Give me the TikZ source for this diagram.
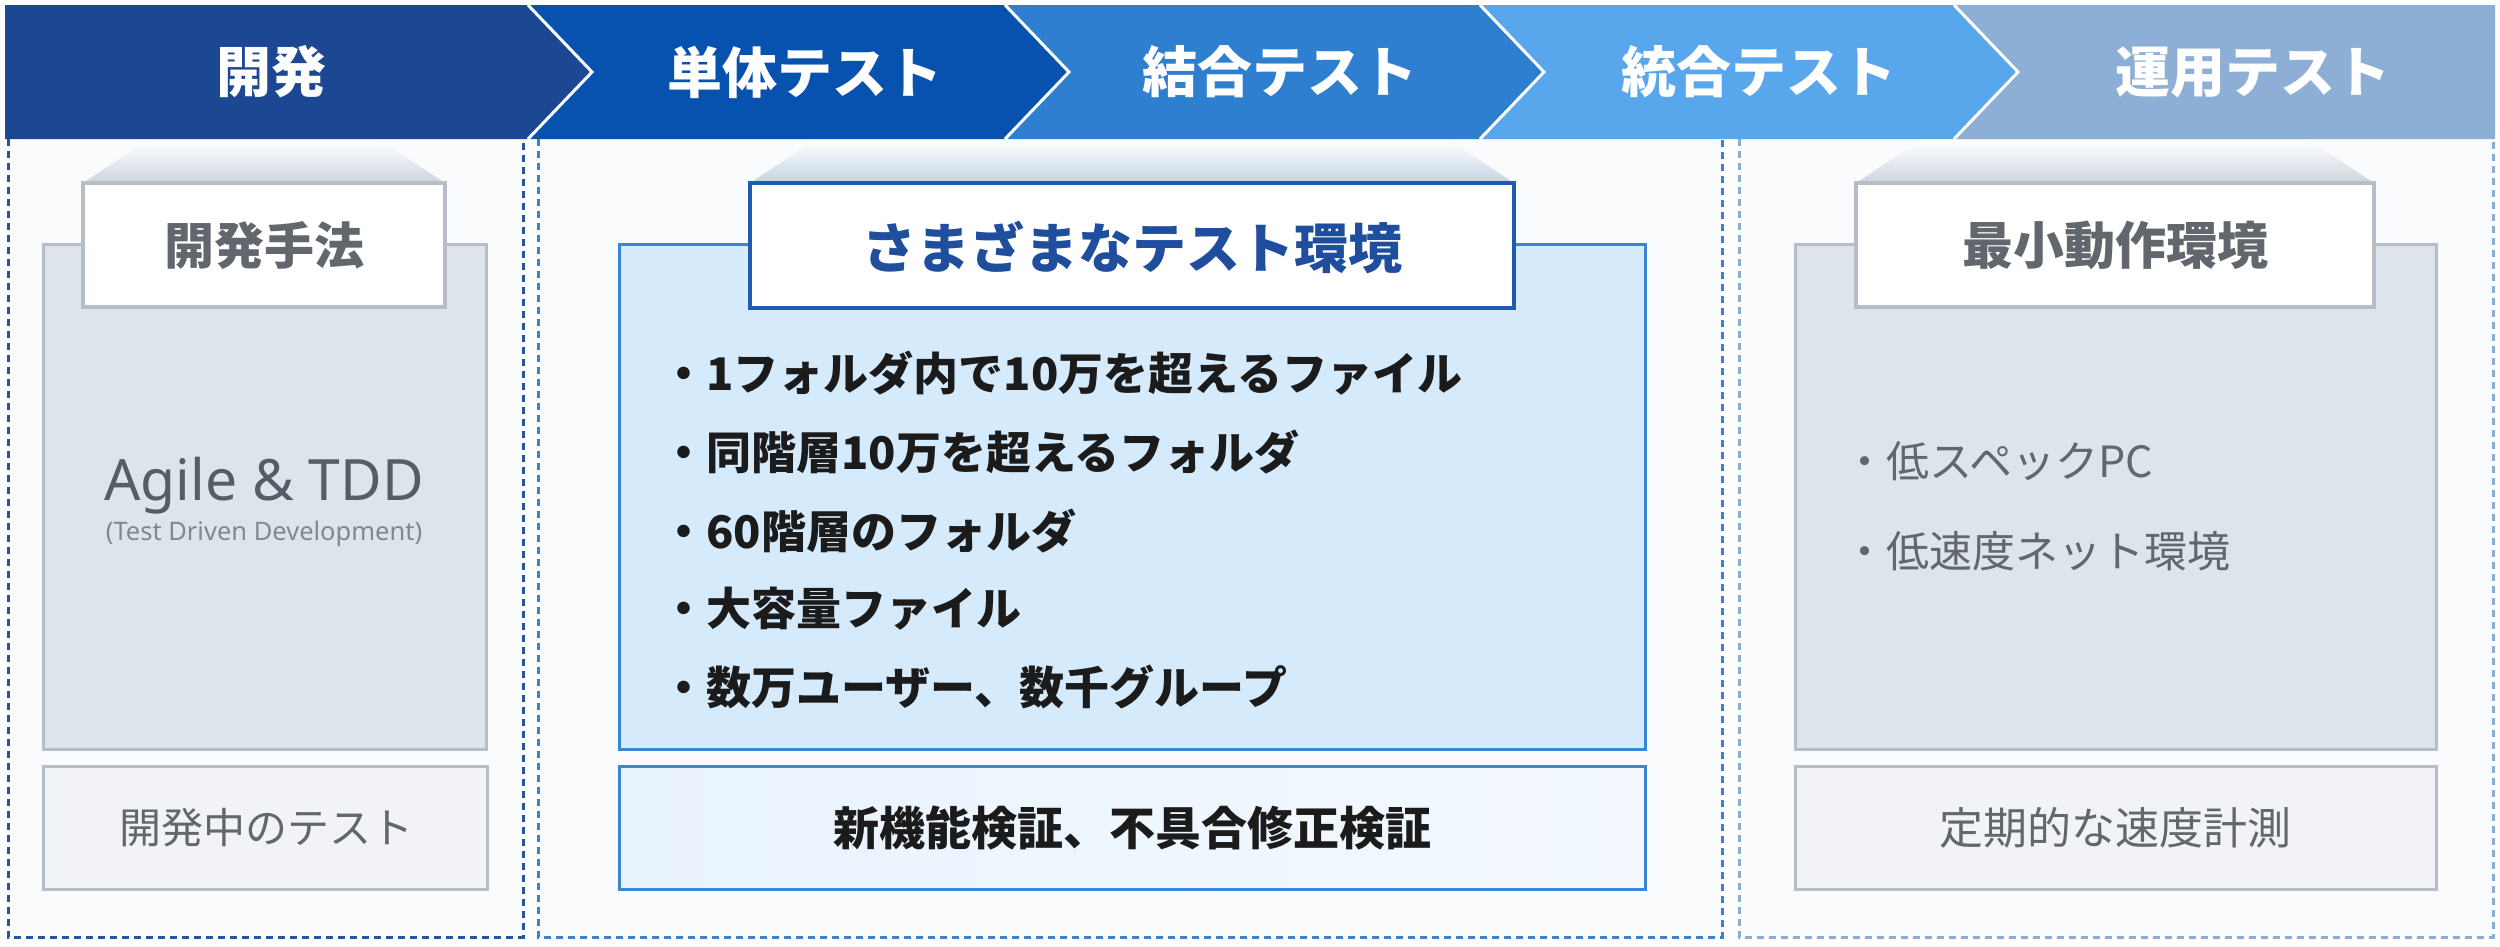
\documentclass[tikz,border=0pt]{standalone}
\usepackage{fontspec}
\setmainfont{Noto Sans}
\newfontfamily\jp{Noto Sans CJK JP}
\definecolor{hdA}{HTML}{1C4893}
\definecolor{hdB}{HTML}{0752AF}
\definecolor{hdC}{HTML}{2E7FCF}
\definecolor{hdD}{HTML}{58A6EB}
\definecolor{hdE}{HTML}{8EAFD5}
\definecolor{dashA}{HTML}{25559F}
\definecolor{dashB}{HTML}{3A82D0}
\definecolor{dashC}{HTML}{8AADD6}
\definecolor{graybox}{HTML}{DDE4EC}
\definecolor{grayedge}{HTML}{B7BDC6}
\definecolor{graylow}{HTML}{F1F3F6}
\definecolor{bluebox}{HTML}{D5EAFB}
\definecolor{blueedge}{HTML}{3B86D2}
\definecolor{bluelowA}{HTML}{E9F3FD}
\definecolor{bluelowB}{HTML}{F3F9FE}
\definecolor{tabedge}{HTML}{1F5BB3}
\definecolor{titleblue}{HTML}{1F4E9E}
\definecolor{txtgray}{HTML}{62666D}
\definecolor{txtdark}{HTML}{1B1B1B}
\definecolor{agilegray}{HTML}{575D67}
\definecolor{subgray}{HTML}{828892}
\definecolor{panelbg}{HTML}{FAFBFC}
\definecolor{shadowgray}{HTML}{CDD5DE}
\definecolor{shadowblue}{HTML}{C4D4E3}
\begin{document}
\begin{tikzpicture}[x=1pt,y=-1pt,
  dashline/.style={line width=3pt, dash pattern=on 7pt off 5pt},
  hdtext/.style={text=white, inner sep=0pt, font=\jp\bfseries\fontsize{55}{60}\selectfont},
  tabtitle/.style={inner sep=0pt, font=\jp\bfseries\fontsize{51}{56}\selectfont},
  itemdark/.style={anchor=west, inner sep=0pt, text=txtdark, font=\jp\bfseries\fontsize{45}{50}\selectfont},
  itemgray/.style={anchor=west, inner sep=0pt, text=txtgray, font=\jp\fontsize{43}{48}\selectfont},
  graytab/.style={draw=grayedge, fill=white, line width=3.5pt},
  grayfill/.style={draw=grayedge, fill=graybox, line width=3pt},
  graylowbox/.style={draw=grayedge, fill=graylow, line width=3pt},
  hdsep/.style={white, line width=3pt}
]
\useasboundingbox (0,0) rectangle (2500,946);
\fill[white] (0,0) rectangle (2500,946);

% panels
\fill[panelbg] (8,139) rectangle (523,937);
\fill[panelbg] (538,139) rectangle (1722,937);
\fill[panelbg] (1739,139) rectangle (2493,937);
\draw[dashline, dashA] (8,139) -- (8,937) -- (523,937) -- (523,139);
\draw[dashline, dashB] (538,139) -- (538,937) -- (1722,937) -- (1722,139);
\draw[dashline, dashC] (1739,139) -- (1739,937) -- (2493,937) -- (2493,139);

% header chevrons
\fill[hdA] (5,5) -- (528,5) -- (592,72) -- (528,139) -- (5,139) -- cycle;
\fill[hdB] (528,5) -- (1005,5) -- (1069,72) -- (1005,139) -- (528,139) -- (592,72) -- cycle;
\fill[hdC] (1005,5) -- (1480,5) -- (1544,72) -- (1480,139) -- (1005,139) -- (1069,72) -- cycle;
\fill[hdD] (1480,5) -- (1954,5) -- (2018,72) -- (1954,139) -- (1480,139) -- (1544,72) -- cycle;
\fill[hdE] (1954,5) -- (2495,5) -- (2495,139) -- (1954,139) -- (2018,72) -- cycle;
\draw[hdsep] (528,5) -- (592,72) -- (528,139);
\draw[hdsep] (1005,5) -- (1069,72) -- (1005,139);
\draw[hdsep] (1480,5) -- (1544,72) -- (1480,139);
\draw[hdsep] (1954,5) -- (2018,72) -- (1954,139);
\node[hdtext] (hA) at (271,72) {開発};
\node[hdtext] (hB) at (805,72) {単体テスト};
\node[hdtext] (hC) at (1280,72) {結合テスト};
\node[hdtext] (hD) at (1759,72) {統合テスト};
\node[hdtext] (hE) at (2253,72) {運用テスト};

% ---------- panel 1
\shade[top color=white, bottom color=shadowgray] (148,140) -- (380,140) -- (445,183) -- (83,183) -- cycle;
\draw[grayfill] (43,244) rectangle (486,749);
\draw[graytab] (83,183) rectangle (445,307);
\node[tabtitle, text=txtgray, font=\jp\bfseries\fontsize{50}{55}\selectfont] (tA) at (264,245) {開発手法};
\node[anchor=base, inner sep=0pt, text=agilegray, font=\fontsize{57}{62}\selectfont] (agile) at (264,500) {Agile \& TDD};
\node[anchor=base, inner sep=0pt, text=subgray, font=\fontsize{25.5}{30}\selectfont] (tdd) at (264,540) {(Test Driven Development)};
\draw[graylowbox] (43,766) rectangle (487,889);
\node[inner sep=0pt, text=txtgray, font=\jp\fontsize{42}{46}\selectfont] (bA) at (266,828) {開発中のテスト};

% ---------- panel 2
\shade[top color=white, bottom color=shadowblue] (815,140) -- (1449,140) -- (1514,183) -- (750,183) -- cycle;
\draw[draw=blueedge, fill=bluebox, line width=3pt] (619,244) rectangle (1645,749);
\draw[draw=tabedge, fill=white, line width=4pt] (750,183) rectangle (1514,308);
\node[tabtitle, text=titleblue, font=\jp\bfseries\fontsize{54}{58}\selectfont] (tB) at (1132,247) {さまざまなテスト環境};
\node[itemdark] (iA) at (661,373) {・1フォルダ内で10万を超えるファイル};
\node[itemdark] (iB) at (661,452) {・同階層10万を超えるフォルダ};
\node[itemdark] (iC) at (661,531) {・60階層のフォルダ};
\node[itemdark] (iD) at (661,609) {・大容量ファイル};
\node[itemdark] (iE) at (661,687) {・数万ユーザー、数千グループ};
\draw[draw=blueedge, line width=3pt, left color=bluelowA, right color=bluelowB] (619,766) rectangle (1645,889);
\node[inner sep=0pt, text=txtdark, font=\jp\bfseries\fontsize{46}{50}\selectfont] (bB) at (1132,828) {新機能検証、不具合修正検証};

% ---------- panel 3
\shade[top color=white, bottom color=shadowgray] (1921,140) -- (2309,140) -- (2374,183) -- (1856,183) -- cycle;
\draw[grayfill] (1795,244) rectangle (2436,749);
\draw[graytab] (1856,183) rectangle (2374,307);
\node[tabtitle, text=txtgray] (tC) at (2115,245) {最小動作環境};
\node[itemgray] (jA) at (1843,461) {・低スペックPC};
\node[itemgray] (jB) at (1843,551) {・低速度ネット環境};
\draw[graylowbox] (1795,766) rectangle (2436,889);
\node[inner sep=0pt, text=txtgray, font=\jp\fontsize{44}{48}\selectfont] (bC) at (2115,828) {定期的な速度計測};
\end{tikzpicture}
\end{document}
